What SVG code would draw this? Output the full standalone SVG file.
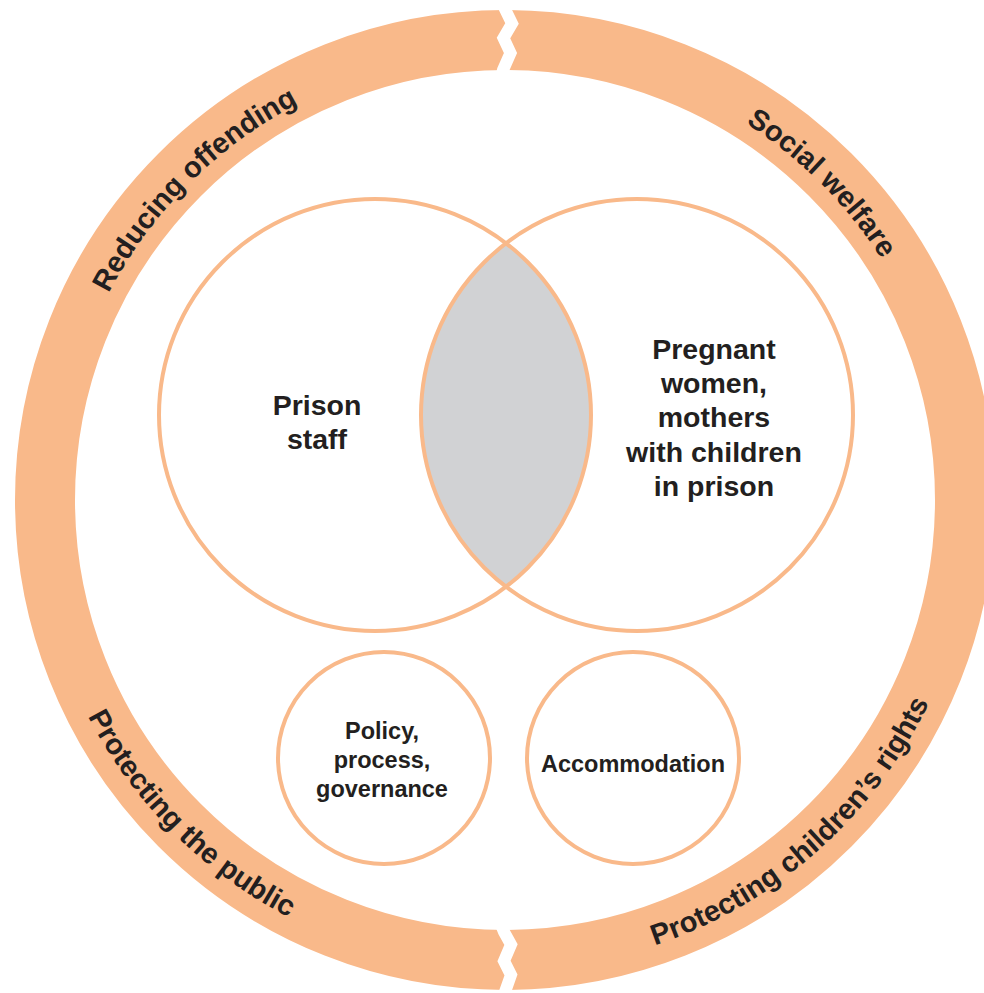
<svg xmlns="http://www.w3.org/2000/svg" width="984" height="993" viewBox="0 0 984 993">
<style>
.ring{fill:none;stroke:#F9B98A;stroke-width:60}
.gap{fill:none;stroke:#FFFFFF;stroke-width:12;stroke-linejoin:miter}
.node{fill:none;stroke:#F9B98A;stroke-width:4}
.lens{fill:#D1D2D4;stroke:none}
.lbl{font-family:"Liberation Sans",Arial,Helvetica,sans-serif;font-weight:bold;fill:#231F20;text-anchor:middle}
.big{font-size:28.5px}
.small{font-size:23.5px}
.ringtxt{font-size:29px}
</style>
<defs>
<path id="arcRO" d="M 58 500 A 447 447 0 0 1 505 53"/>
<path id="arcSW" d="M 505 53 A 447 447 0 0 1 952 500"/>
<path id="arcPP" d="M 35 500 A 470 470 0 0 0 505 970"/>
<path id="arcPC" d="M 448.0 966.5 A 470 470 0 0 0 975 500"/>
</defs>
<rect x="0" y="0" width="984" height="993" fill="#FFFFFF"/>
<g id="outer-ring">
<circle class="ring" cx="505" cy="500" r="460"/>
<polyline class="gap" points="500,-2 504.5,8 512,23.5 503.5,38 510.5,53 503,70 501,78"/>
<polyline class="gap" points="500,922 504,932 511,944.5 504,961 511,975 505,992 504,1000"/>
</g>
<g id="ring-labels">
<text class="lbl ringtxt"><textPath href="#arcRO" startOffset="50%">Reducing offending</textPath></text>
<text class="lbl ringtxt"><textPath href="#arcSW" startOffset="50%">Social welfare</textPath></text>
<text class="lbl ringtxt"><textPath href="#arcPP" startOffset="50%">Protecting the public</textPath></text>
<text class="lbl ringtxt"><textPath href="#arcPC" startOffset="50%">Protecting children’s rights</textPath></text>
</g>
<g id="overlap">
<path class="lens" d="M 506 243.3 A 216 216 0 0 1 506 586.7 A 216 216 0 0 1 506 243.3 Z"/>
</g>
<g id="prison-staff">
<circle class="node" cx="375" cy="415" r="216"/>
<text class="lbl big" x="317" y="415">Prison</text>
<text class="lbl big" x="317" y="449">staff</text>
</g>
<g id="pregnant-women">
<circle class="node" cx="637" cy="415" r="216"/>
<text class="lbl big" x="714" y="359">Pregnant</text>
<text class="lbl big" x="714" y="393">women,</text>
<text class="lbl big" x="714" y="427">mothers</text>
<text class="lbl big" x="714" y="462">with children</text>
<text class="lbl big" x="714" y="496">in prison</text>
</g>
<g id="policy">
<circle class="node" cx="384" cy="758" r="106"/>
<text class="lbl small" x="382" y="739">Policy,</text>
<text class="lbl small" x="382" y="768">process,</text>
<text class="lbl small" x="382" y="797">governance</text>
</g>
<g id="accommodation">
<circle class="node" cx="633" cy="758" r="106"/>
<text class="lbl small" x="633" y="772">Accommodation</text>
</g>
</svg>
